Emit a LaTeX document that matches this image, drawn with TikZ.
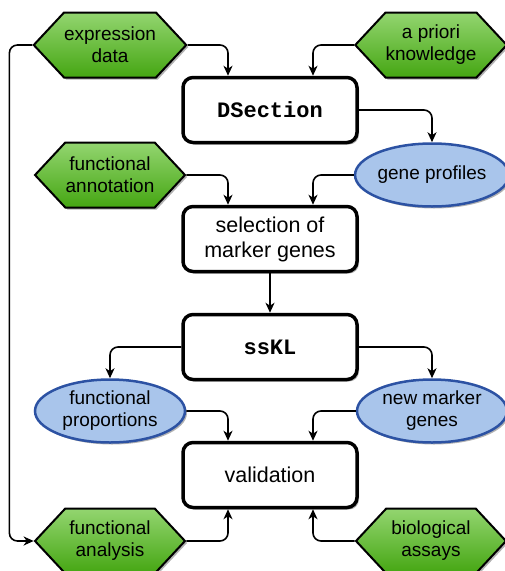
\documentclass[tikz,border=0pt]{standalone}
\usepackage{fontspec}
\setmainfont{Liberation Sans}
\setmonofont{Liberation Mono}
\usetikzlibrary{shapes.symbols,shapes.geometric,arrows.meta,shadows}

\definecolor{hexTop}{HTML}{93D570}
\definecolor{hexBot}{HTML}{45A612}
\definecolor{ellFill}{HTML}{A9C5EB}
\definecolor{ellDraw}{HTML}{2C52A3}

\tikzset{
  label font/.style={font=\fontsize{19}{22}\selectfont, align=center, text=black},
  step font/.style={font=\fontsize{21.5}{25}\selectfont, align=center, text=black},
  soft shadow/.style={drop shadow={shadow xshift=2pt, shadow yshift=-2pt, opacity=0.3, fill=black}},
  procbox/.style={step font, rectangle, rounded corners=10pt, draw=black, line width=3.5pt,
    fill=white, minimum width=174pt, minimum height=65pt, inner sep=0pt, soft shadow},
  databox/.style={label font, shape=signal, signal to=east and west, signal pointer angle=94,
    draw=black, line width=2pt, top color=hexTop, bottom color=hexBot,
    minimum width=150pt, minimum height=65pt, inner sep=0pt, soft shadow},
  resultbox/.style={label font, ellipse, draw=ellDraw, line width=2.5pt, fill=ellFill,
    minimum width=150pt, minimum height=63pt, inner sep=0pt, soft shadow},
  conn/.style={draw=black, line width=1.6pt, rounded corners=8pt,
    -{Stealth[length=10pt, width=9pt, inset=3pt]}},
  codetext/.style={font=\fontsize{22}{25}\selectfont\ttfamily\bfseries}
}

\begin{document}
\begin{tikzpicture}[x=1pt, y=-1pt]
  \useasboundingbox (0,0) rectangle (504,571);

  % inputs and processing steps
  \node[databox] (ed)  at (110,45)  {expression\\data};
  \node[databox] (ak)  at (431,45)  {a priori\\knowledge};
  \node[procbox, codetext] (ds)  at (270,110) {DSection};
  \node[databox] (fan) at (110,175) {functional\\annotation};
  \node[resultbox] (gp) at (432,175) {gene profiles};
  \node[procbox] (sel) at (270,239) {selection of\\marker genes};
  \node[procbox, codetext] (sskl) at (270,347) {ssKL};
  \node[resultbox] (fp) at (110,411) {functional\\proportions};
  \node[resultbox] (nmg) at (432,411) {new marker\\genes};
  \node[procbox] (val) at (270,475) {validation};
  \node[databox] (fa)  at (110,541) {functional\\analysis};
  \node[databox] (ba)  at (431,541) {biological\\assays};

  % connectors
  \draw[conn] (ed.east) -| ([xshift=-42pt]ds.north);
  \draw[conn] (ak.west) -| ([xshift=43pt]ds.north);
  \draw[conn] (ed.west) -- ++(-23,0) |- (fa.west);
  \draw[conn] (ds.east) -| (gp.north);
  \draw[conn] (fan.east) -| ([xshift=-42pt]sel.north);
  \draw[conn] (gp.west) -| ([xshift=43pt]sel.north);
  \draw[conn] (sel.south) -- (sskl.north);
  \draw[conn] (sskl.west) -| (fp.north);
  \draw[conn] (sskl.east) -| (nmg.north);
  \draw[conn] (fp.east) -| ([xshift=-42pt]val.north);
  \draw[conn] (nmg.west) -| ([xshift=43pt]val.north);
  \draw[conn] (fa.east) -| ([xshift=-42pt]val.south);
  \draw[conn] (ba.west) -| ([xshift=43pt]val.south);
\end{tikzpicture}
\end{document}
